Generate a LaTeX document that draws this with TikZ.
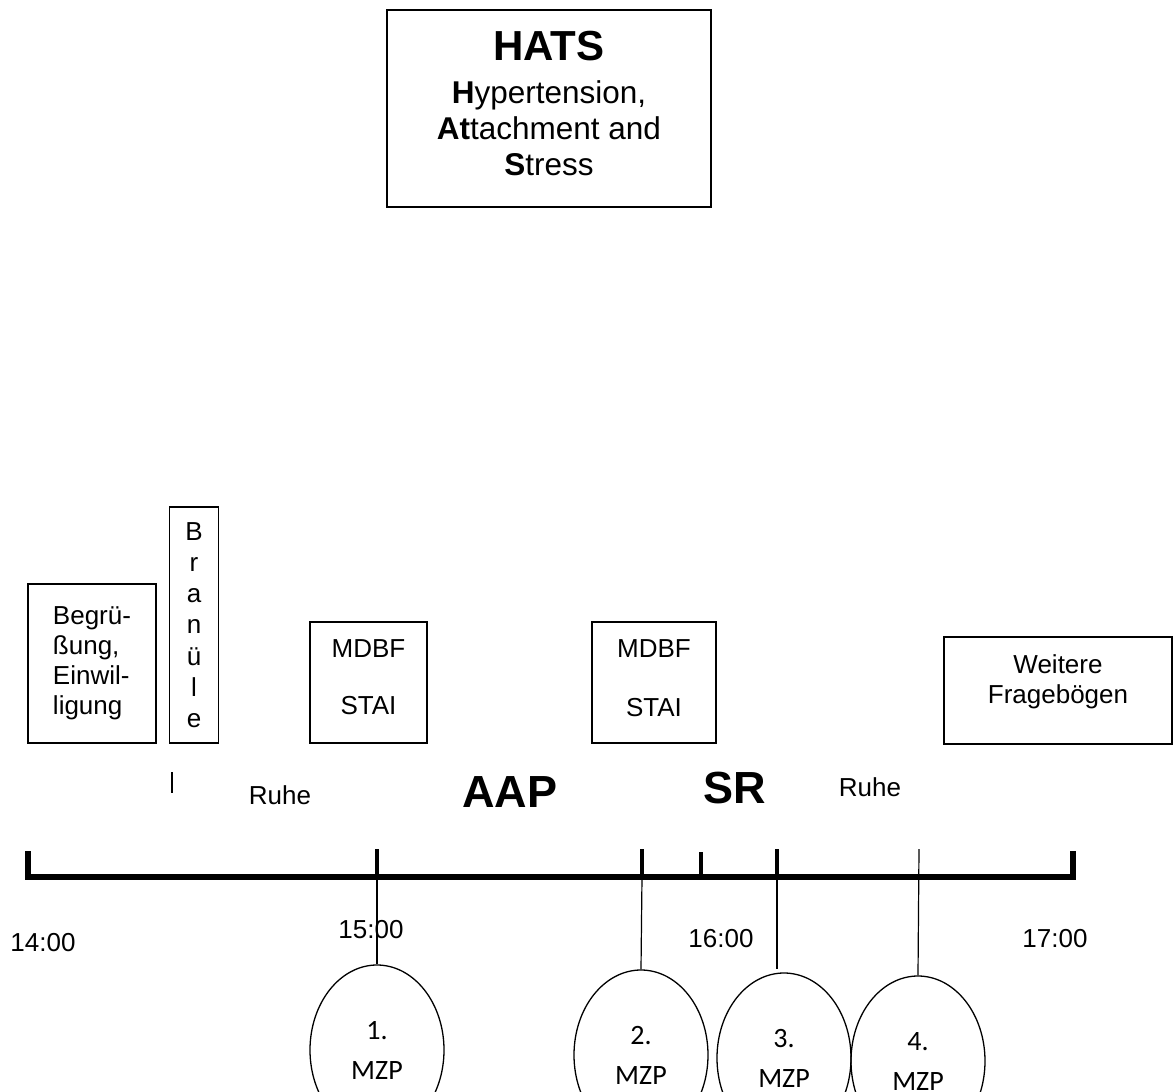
\documentclass[tikz,border=0pt]{standalone}
\usepackage{fontspec}
\setmainfont{Liberation Sans}
\newfontfamily\mzpfont{Carlito}
\usetikzlibrary{shapes.geometric}
\usetikzlibrary{positioning}

\tikzset{
  box/.style={draw,line width=1.5pt,inner sep=0pt,align=center,font=\fontsize{26}{30}\selectfont},
  lbl/.style={inner sep=0pt,font=\fontsize{26}{30}\selectfont},
  biglbl/.style={inner sep=0pt,font=\fontsize{45}{50}\selectfont\bfseries},
  mzp/.style={draw,ellipse,line width=1.3pt,inner sep=0pt,minimum width=134pt,minimum height=170pt,align=center,font=\mzpfont\fontsize{28}{40}\selectfont},
  axis/.style={line width=6.5pt},
  tick/.style={line width=4pt},
  thin/.style={line width=1.2pt}
}

\begin{document}
\begin{tikzpicture}[x=1pt,y=-1pt]
  \useasboundingbox (0,0) rectangle (1173,1092);

  \node[box,minimum width=324pt,minimum height=197pt, name=hats] at (549,108.5) {};
  \node[lbl,align=center,font=\fontsize{31.5}{36}\selectfont,below=22pt of hats.north, name=title]
    {{\fontsize{42}{46}\selectfont\bfseries HATS}\\[7pt]
     \textbf{H}ypertension,\\
     \textbf{At}tachment and\\
     \textbf{S}tress};

  \node[box,align=left,minimum width=128pt,minimum height=159pt, name=begr] at (92,663.5) {Begrü-\\ßung,\\Einwil-\\ligung};
  \node[box,minimum width=49pt,minimum height=236pt,font=\fontsize{26}{31.2}\selectfont, name=bran] at (194,625) {B\\r\\a\\n\\ü\\l\\e};
  \node[box,minimum width=117pt,minimum height=121pt, name=frag1] at (368.5,682.5) {};
  \node[lbl,align=center,below=18pt of frag1.north] {MDBF\\[27pt]STAI};
  \node[box,minimum width=124pt,minimum height=121pt, name=frag2] at (654,682.5) {};
  \node[lbl,align=center,below=18pt of frag2.north] {MDBF\\[29pt]STAI};
  \node[box,minimum width=228pt,minimum height=107pt, name=weitere] at (1058,690.5) {};
  \node[lbl,align=center,below=18pt of weitere.north] {Weitere\\Fragebögen};

  \node[lbl, name=ruhe1] at (280,795) {Ruhe};
  \node[biglbl, name=aap] at (510,792) {AAP};
  \node[biglbl, name=sr] at (735,788) {SR};
  \node[lbl, name=ruhe2] at (870,787) {Ruhe};

  % Zeitachse
  \draw[axis] (28,851) -- (28,877) -- (1073,877) -- (1073,851);
  \coordinate (t15) at (377,849);
  \coordinate (t2)  at (642,849);
  \coordinate (t16) at (701,852);
  \coordinate (t3)  at (777,849);
  \coordinate (t4)  at (919,849);
  \coordinate (bmark) at (172,772);
  \draw[tick] (t15) -- ++(0,28);
  \draw[tick] (t2)  -- ++(0,28);
  \draw[tick] (t16) -- ++(0,25);
  \draw[tick] (t3)  -- ++(0,28);
  \draw[thin] (bmark) -- ++(0,21);

  \node[lbl, name=h14] at (43,943) {14:00};
  \node[lbl, name=h15] at (371,930) {15:00};
  \node[lbl, name=h16] at (721,939) {16:00};
  \node[lbl, name=h17] at (1055,939) {17:00};

  \node[mzp, name=mzp1] at (377,1050) {1.\\MZP};
  \node[mzp, name=mzp2] at (641,1055) {2.\\MZP};
  \node[mzp, name=mzp3] at (784,1058) {3.\\MZP};
  \node[mzp, name=mzp4] at (918,1061) {4.\\MZP};

  \draw[thin] (t15) -- (mzp1.north);
  \draw[thin] (t2 |- 0,877) -- (mzp2.north);
  \draw[thin] (t3) -- ++(0,120);
  \draw[thin] (t4) -- (mzp4.north);
\end{tikzpicture}
\end{document}
